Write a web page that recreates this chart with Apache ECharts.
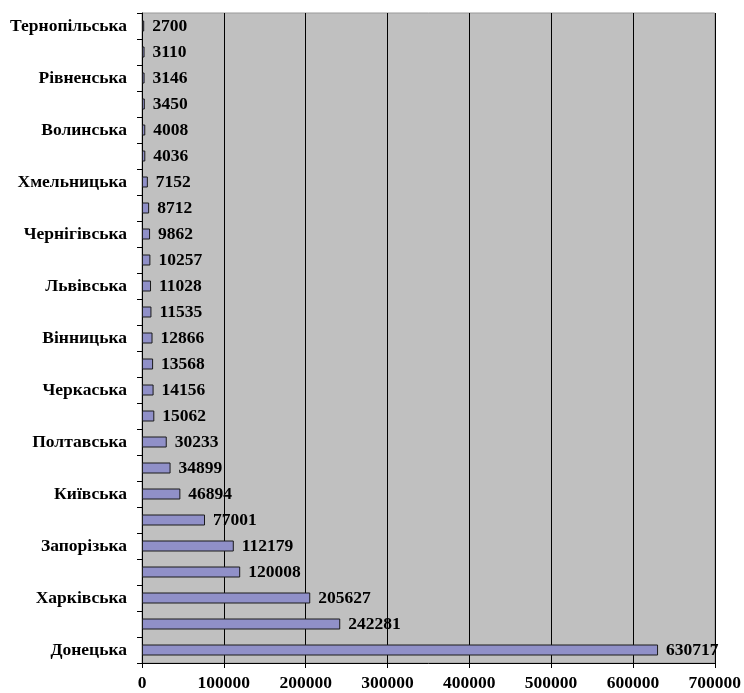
<!DOCTYPE html>
<html><head><meta charset="utf-8">
<script src="https://cdn.jsdelivr.net/npm/echarts@6/dist/echarts.min.js"></script>
<style>html,body{margin:0;padding:0;background:#fff}#c{width:744px;height:693px}</style>
</head><body><div id="c"></div>
<script>
// bottom to top
var categories = ['Донецька','','Харківська','','Запорізька','','Київська','','Полтавська','','Черкаська','','Вінницька','','Львівська','','Чернігівська','','Хмельницька','','Волинська','','Рівненська','','Тернопільська'];
var values = [630717,242281,205627,120008,112179,77001,46894,34899,30233,15062,14156,13568,12866,11535,11028,10257,9862,8712,7152,4036,4008,3450,3146,3110,2700];
var xTicks = [0,100000,200000,300000,400000,500000,600000,700000];

var font = '"Liberation Serif","DejaVu Serif",serif';
var fs = 17.5;
var chart = echarts.init(document.getElementById('c'), null, {renderer:'canvas'});
chart.setOption({
  animation:false,
  grid:{left:142,right:28,top:13,bottom:30,show:true,backgroundColor:'#c0c0c0',borderColor:'#999999',borderWidth:1},
  xAxis:{type:'value',min:xTicks[0],max:xTicks[xTicks.length-1],interval:100000,
    axisLine:{show:true,lineStyle:{color:'#000',width:1}},
    axisTick:{show:true,length:5,lineStyle:{color:'#000'}},
    axisLabel:{color:'#000',fontFamily:font,fontWeight:'bold',fontSize:fs,margin:11,
      formatter:function(v){return String(v);}},
    splitLine:{show:true,lineStyle:{color:'#000',width:1}}},
  yAxis:{type:'category',data:categories,
    axisLine:{show:true,onZero:false,lineStyle:{color:'#000',width:1}},
    axisTick:{show:true,length:5,alignWithLabel:false,interval:0,lineStyle:{color:'#000'}},
    axisLabel:{interval:0,color:'#000',fontFamily:font,fontWeight:'bold',fontSize:fs,margin:15},
    splitLine:{show:false}},
  series:[{type:'bar',data:values,barWidth:11,
    itemStyle:{color:'#9090c8',borderColor:'#1a1a1a',borderWidth:1},
    label:{show:true,position:'right',distance:8,color:'#000',fontFamily:font,fontWeight:'bold',fontSize:fs}}]
});
</script></body></html>
